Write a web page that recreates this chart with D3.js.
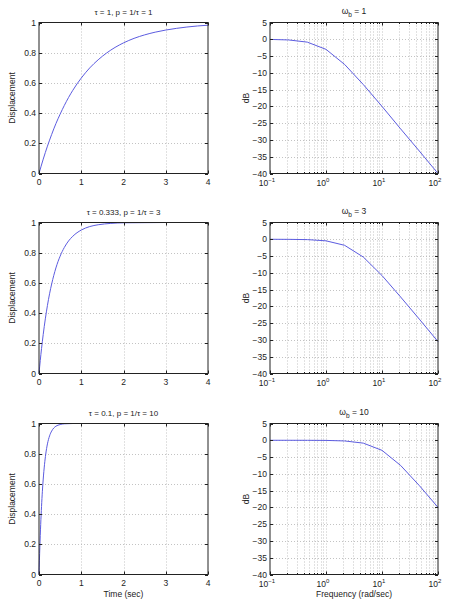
<!DOCTYPE html>
<html>
<head>
<meta charset="utf-8">
<script src="https://cdn.jsdelivr.net/npm/d3@7"></script>
<style>
  body { margin: 0; background: #fff; }
  svg text { font-family: "Liberation Sans", Arial, sans-serif; fill: #222; }
</style>
</head>
<body>
<div id="chart"></div>
<script>
// step responses
const stepTitles = ["τ = 1, p = 1/τ = 1", "τ = 0.333, p = 1/τ = 3", "τ = 0.1, p = 1/τ = 10"];

const time1 = [0, 0.1, 0.2, 0.3, 0.4, 0.5, 0.6, 0.8, 1, 1.2, 1.4, 1.6, 1.8, 2, 2.25, 2.5, 2.75, 3, 3.25, 3.5, 3.75, 4];
const disp1 = [0, 0.095, 0.181, 0.259, 0.33, 0.393, 0.451, 0.551, 0.632, 0.699, 0.753, 0.798, 0.835, 0.865, 0.895, 0.918, 0.936, 0.95, 0.961, 0.97, 0.977, 0.982];

const time2 = [0, 0.03, 0.06, 0.1, 0.15, 0.2, 0.25, 0.3, 0.4, 0.5, 0.6, 0.7, 0.8, 1, 1.2, 1.4, 1.7, 2, 2.5, 3, 4];
const disp2 = [0, 0.086, 0.165, 0.259, 0.362, 0.451, 0.528, 0.593, 0.699, 0.777, 0.835, 0.878, 0.909, 0.95, 0.973, 0.985, 0.994, 0.998, 0.999, 1, 1];

const time3 = [0, 0.01, 0.02, 0.04, 0.06, 0.08, 0.1, 0.13, 0.16, 0.2, 0.25, 0.3, 0.35, 0.4, 0.5, 0.6, 0.8, 1, 2, 3, 4];
const disp3 = [0, 0.095, 0.181, 0.33, 0.451, 0.551, 0.632, 0.727, 0.798, 0.865, 0.918, 0.95, 0.97, 0.982, 0.993, 0.998, 1, 1, 1, 1, 1];

// bode magnitude
const bodeBands = [1, 3, 10];
const freq = [0.1, 0.215, 0.464, 1, 2.15, 4.64, 10, 21.5, 46.4, 100];
const mag1 = [-0.04, -0.2, -0.85, -3.0, -7.5, -13.5, -20.0, -26.7, -33.3, -40.0];
const mag2 = [0, -0.02, -0.1, -0.46, -1.8, -5.3, -10.8, -17.2, -23.8, -30.5];
const mag3 = [0, 0, -0.01, -0.04, -0.2, -0.85, -3.0, -7.5, -13.5, -20.0];

const stepTicksX = [0, 1, 2, 3, 4];
const stepTicksY = [0, 0.2, 0.4, 0.6, 0.8, 1];
const bodeTicksX = [0.1, 1, 10, 100];
const bodeTicksY = [5, 0, -5, -10, -15, -20, -25, -30, -35, -40];

const steps = [[time1, disp1], [time2, disp2], [time3, disp3]];
const bodes = [mag1, mag2, mag3];

const W = 449, H = 604;
const rowTops = [22.5, 222.5, 423.5];
const plotH = 151;
const leftX = [39, 208], rightX = [270, 438];
const lineColor = "#5c5ce0";
const gridColor = "#b4b4b4";

const svg = d3.select("#chart").append("svg")
  .attr("width", W).attr("height", H);

function frame(g, x0, x1, y0, y1) {
  g.append("rect")
    .attr("x", x0).attr("y", y0)
    .attr("width", x1 - x0).attr("height", y1 - y0)
    .attr("fill", "none").attr("stroke", "#222").attr("stroke-width", 1);
}

function gridV(g, xs, x, y0, y1) {
  g.selectAll(null).data(xs).enter().append("line")
    .attr("x1", d => Math.round(x(d)) + 0.5).attr("x2", d => Math.round(x(d)) + 0.5)
    .attr("y1", y0).attr("y2", y1)
    .attr("stroke", gridColor).attr("stroke-width", 0.8)
    .attr("stroke-dasharray", "1,2");
}

function gridH(g, ys, y, x0, x1) {
  g.selectAll(null).data(ys).enter().append("line")
    .attr("y1", d => Math.round(y(d)) + 0.5).attr("y2", d => Math.round(y(d)) + 0.5)
    .attr("x1", x0).attr("x2", x1)
    .attr("stroke", gridColor).attr("stroke-width", 0.8)
    .attr("stroke-dasharray", "1,2");
}

function tickMarks(g, xs, x, ys, y, x0, x1, y0, y1, len) {
  xs.forEach(d => {
    const px = Math.round(x(d)) + 0.5;
    g.append("line").attr("x1", px).attr("x2", px).attr("y1", y1).attr("y2", y1 - len).attr("stroke", "#222");
    g.append("line").attr("x1", px).attr("x2", px).attr("y1", y0).attr("y2", y0 + len).attr("stroke", "#222");
  });
  ys.forEach(d => {
    const py = Math.round(y(d)) + 0.5;
    g.append("line").attr("y1", py).attr("y2", py).attr("x1", x0).attr("x2", x0 + len).attr("stroke", "#222");
    g.append("line").attr("y1", py).attr("y2", py).attr("x1", x1).attr("x2", x1 - len).attr("stroke", "#222");
  });
}

// left column: step responses
steps.forEach(([t, v], i) => {
  const y0 = rowTops[i], y1 = y0 + plotH;
  const x = d3.scaleLinear().domain([0, 4]).range(leftX);
  const y = d3.scaleLinear().domain([0, 1]).range([y1, y0]);
  const g = svg.append("g");

  gridV(g, stepTicksX.slice(1, -1), x, y0, y1);
  gridH(g, stepTicksY.slice(1, -1), y, leftX[0], leftX[1]);

  g.append("path")
    .datum(t.map((d, j) => [d, v[j]]))
    .attr("fill", "none").attr("stroke", lineColor).attr("stroke-width", 1)
    .attr("d", d3.line().x(d => x(d[0])).y(d => y(d[1])).curve(d3.curveMonotoneX));

  tickMarks(g, stepTicksX, x, stepTicksY, y, leftX[0], leftX[1], y0, y1, 3);
  frame(g, leftX[0], leftX[1], y0, y1);

  g.selectAll(null).data(stepTicksX).enter().append("text")
    .attr("x", d => x(d)).attr("y", y1 + 11)
    .attr("text-anchor", "middle").attr("font-size", 8.5)
    .text(d => d);
  g.selectAll(null).data(stepTicksY).enter().append("text")
    .attr("x", leftX[0] - 3).attr("y", d => y(d) + 3)
    .attr("text-anchor", "end").attr("font-size", 8.5)
    .text(d => d);

  g.append("text")
    .attr("x", (leftX[0] + leftX[1]) / 2).attr("y", y0 - 8)
    .attr("text-anchor", "middle").attr("font-size", 8)
    .text(stepTitles[i]);

  g.append("text")
    .attr("transform", `translate(15,${(y0 + y1) / 2}) rotate(-90)`)
    .attr("text-anchor", "middle").attr("font-size", 8.5)
    .text("Displacement");

  if (i === 2) {
    g.append("text")
      .attr("x", (leftX[0] + leftX[1]) / 2).attr("y", y1 + 22)
      .attr("text-anchor", "middle").attr("font-size", 8.5)
      .text("Time (sec)");
  }
});

// right column: bode magnitude
const minorFreqs = [];
[0.1, 1, 10].forEach(dec => {
  for (let k = 2; k <= 9; k++) minorFreqs.push(dec * k);
});

bodes.forEach((m, i) => {
  const y0 = rowTops[i], y1 = y0 + plotH;
  const x = d3.scaleLog().domain([0.1, 100]).range(rightX);
  const y = d3.scaleLinear().domain([-40, 5]).range([y1, y0]);
  const g = svg.append("g");

  gridV(g, minorFreqs.concat([1, 10]), x, y0, y1);
  gridH(g, bodeTicksY.slice(1, -1), y, rightX[0], rightX[1]);

  g.append("path")
    .datum(freq.map((d, j) => [d, m[j]]))
    .attr("fill", "none").attr("stroke", lineColor).attr("stroke-width", 1)
    .attr("d", d3.line().x(d => x(d[0])).y(d => y(d[1])));

  tickMarks(g, bodeTicksX, x, bodeTicksY, y, rightX[0], rightX[1], y0, y1, 3);
  tickMarks(g, minorFreqs, x, [], y, rightX[0], rightX[1], y0, y1, 1.5);
  frame(g, rightX[0], rightX[1], y0, y1);

  const lbl = g.selectAll(null).data(bodeTicksX).enter().append("text")
    .attr("x", d => x(d) - 3).attr("y", y1 + 12)
    .attr("text-anchor", "middle").attr("font-size", 8.5);
  lbl.append("tspan").text("10");
  lbl.append("tspan").attr("dy", -4).attr("font-size", 6)
    .text(d => Math.round(Math.log10(d)) < 0 ? "−1" : Math.round(Math.log10(d)));

  g.selectAll(null).data(bodeTicksY).enter().append("text")
    .attr("x", rightX[0] - 3).attr("y", d => y(d) + 3)
    .attr("text-anchor", "end").attr("font-size", 8.5)
    .text(d => d < 0 ? "−" + (-d) : d);

  const title = g.append("text")
    .attr("x", (rightX[0] + rightX[1]) / 2).attr("y", y0 - 9)
    .attr("text-anchor", "middle").attr("font-size", 8.5);
  title.append("tspan").text("ω");
  title.append("tspan").attr("dy", 3).attr("font-size", 6.5).text("b");
  title.append("tspan").attr("dy", -3).text(" = " + bodeBands[i]);

  g.append("text")
    .attr("transform", `translate(249,${(y0 + y1) / 2}) rotate(-90)`)
    .attr("text-anchor", "middle").attr("font-size", 8.5)
    .text("dB");

  if (i === 2) {
    g.append("text")
      .attr("x", (rightX[0] + rightX[1]) / 2).attr("y", y1 + 22)
      .attr("text-anchor", "middle").attr("font-size", 8.5)
      .text("Frequency (rad/sec)");
  }
});
</script>
</body>
</html>
